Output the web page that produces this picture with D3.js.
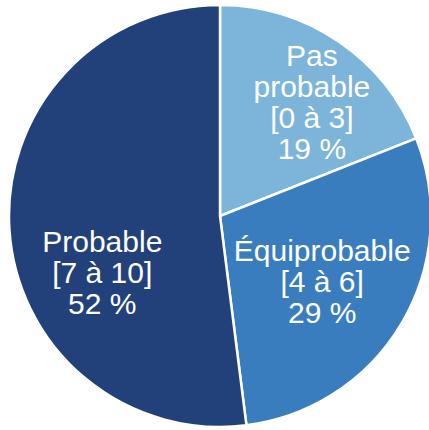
<!DOCTYPE html>
<html><head><meta charset="utf-8">
<script src="https://cdn.jsdelivr.net/npm/d3@7"></script>
<style>html,body{margin:0;padding:0;background:#fff;overflow:hidden}</style>
</head><body>
<svg id="chart" width="429" height="430"></svg>
<script>
const categories = ["Pas probable", "Équiprobable", "Probable"];
const labelLines = [["Pas", "probable", "[0 à 3]", "19 %"], ["Équiprobable", "[4 à 6]", "29 %"], ["Probable", "[7 à 10]", "52 %"]];
const values = [19, 29, 52];
const colors = ["#7db4da", "#3a7dbf", "#22417a"];
const labelNudge = [[16, -3], [-14, -3], [17, 48]];

const svg = d3.select("#chart");
const cx = 220, cy = 216, R = 211;
const g = svg.append("g").attr("transform", `translate(${cx},${cy})`);
const pie = d3.pie().sort(null).value(d => d)(values);
const arc = d3.arc().innerRadius(0).outerRadius(R);
const labelArc = d3.arc().innerRadius(135).outerRadius(135);
const color = d3.scaleOrdinal().domain(categories).range(colors);

g.selectAll("path").data(pie).join("path")
  .attr("d", arc)
  .attr("fill", (d, i) => color(categories[i]))
  .attr("stroke", "#fff").attr("stroke-width", 2.5).attr("stroke-linejoin", "round");

const fs = 30, lh = 31;
pie.forEach((d, i) => {
  const [x, y] = labelArc.centroid(d);
  const lines = labelLines[i];
  const mx = x + labelNudge[i][0], my = y + labelNudge[i][1];
  const first = my - (lines.length - 1) * lh / 2 + fs * 0.716 / 2;
  const t = g.append("text").attr("text-anchor", "middle")
    .attr("font-family", "Liberation Sans, Arial, sans-serif")
    .attr("font-size", fs).attr("fill", "#fff");
  lines.forEach((ln, j) => t.append("tspan").attr("x", mx).attr("y", first + j * lh).text(ln));
});
</script>
</body></html>
